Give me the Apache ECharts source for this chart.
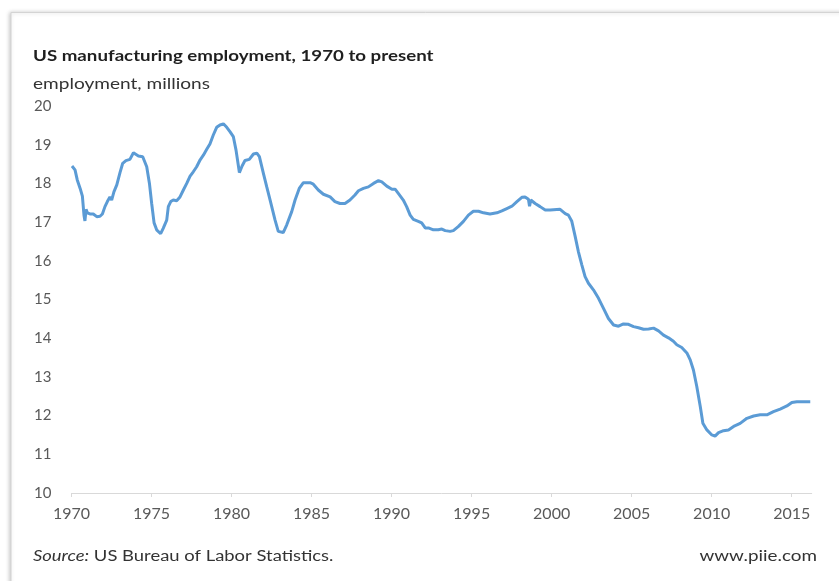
<!DOCTYPE html>
<html>
<head>
<meta charset="utf-8">
<script src="https://cdn.jsdelivr.net/npm/echarts@6/dist/echarts.min.js"></script>
<style>
html,body{margin:0;padding:0;background:#fff;}
#chart{width:839px;height:581px;}
</style>
</head>
<body>
<div id="chart"></div>
<script>
const titleText = 'US manufacturing employment, 1970 to present';
const unitText = 'employment, millions';
const sourceLabel = 'Source:';
const sourceText = ' US Bureau of Labor Statistics.';
const siteText = 'www.piie.com';

const years = [
  1970.03,1970.22,1970.36,1970.54,1970.68,1970.78,1970.84,1970.91,1970.99,1971.15,
  1971.36,1971.58,1971.78,1971.93,1972.09,1972.24,1972.40,1972.51,1972.65,1972.83,
  1973.03,1973.20,1973.40,1973.65,1973.87,1973.97,1974.18,1974.45,1974.70,1974.87,
  1975.01,1975.16,1975.32,1975.57,1975.73,1975.95,1976.05,1976.20,1976.36,1976.57,
  1976.78,1976.99,1977.20,1977.41,1977.61,1977.82,1978.04,1978.24,1978.45,1978.65,
  1978.86,1979.07,1979.28,1979.49,1979.70,1979.90,1980.11,1980.28,1980.49,1980.66,
  1980.84,1981.11,1981.37,1981.58,1981.74,1981.99,1982.20,1982.41,1982.72,1982.92,
  1983.23,1983.45,1983.76,1983.97,1984.23,1984.49,1984.91,1985.11,1985.42,1985.74,
  1986.16,1986.46,1986.78,1987.09,1987.40,1987.71,1987.93,1988.24,1988.55,1988.65,
  1988.87,1989.18,1989.39,1989.70,1990.02,1990.22,1990.42,1990.73,1990.94,1991.16,
  1991.36,1991.67,1991.88,1992.10,1992.30,1992.61,1992.92,1993.14,1993.35,1993.66,
  1993.86,1994.18,1994.49,1994.80,1995.11,1995.43,1995.74,1996.15,1996.58,1996.89,
  1997.20,1997.52,1997.83,1998.14,1998.34,1998.55,1998.62,1998.70,1998.97,1999.28,
  1999.60,1999.91,2000.53,2000.85,2001.05,2001.26,2001.47,2001.67,2001.89,2002.09,
  2002.30,2002.61,2002.93,2003.24,2003.55,2003.87,2004.18,2004.49,2004.80,2005.12,
  2005.43,2005.74,2006.06,2006.37,2006.68,2006.99,2007.30,2007.61,2007.82,2008.13,
  2008.45,2008.66,2008.86,2009.07,2009.29,2009.45,2009.70,2010.01,2010.21,2010.43,
  2010.74,2011.05,2011.37,2011.78,2012.20,2012.62,2013.03,2013.45,2013.86,2014.28,
  2014.70,2015.01,2015.32,2015.74,2016.16
];
const employment = [
  18.45,18.35,18.09,17.87,17.67,17.18,17.03,17.33,17.24,17.21,
  17.21,17.14,17.15,17.21,17.40,17.53,17.65,17.57,17.78,17.96,
  18.28,18.52,18.59,18.62,18.79,18.82,18.71,18.69,18.43,18.00,
  17.48,16.98,16.80,16.70,16.84,17.05,17.40,17.53,17.57,17.55,
  17.65,17.83,18.00,18.19,18.30,18.43,18.61,18.73,18.88,19.02,
  19.25,19.45,19.51,19.54,19.45,19.34,19.21,18.86,18.28,18.45,
  18.59,18.62,18.76,18.78,18.69,18.26,17.91,17.57,17.05,16.76,
  16.73,16.93,17.27,17.57,17.87,18.02,18.02,17.98,17.83,17.72,
  17.65,17.53,17.48,17.48,17.57,17.70,17.81,17.87,17.91,17.90,
  18.00,18.07,18.04,17.93,17.85,17.85,17.74,17.57,17.40,17.18,
  17.07,17.02,16.98,16.85,16.85,16.80,16.80,16.82,16.78,16.76,
  16.78,16.89,17.02,17.18,17.28,17.28,17.24,17.21,17.24,17.29,
  17.35,17.41,17.53,17.64,17.65,17.59,17.41,17.57,17.48,17.40,
  17.31,17.31,17.33,17.22,17.18,17.02,16.63,16.24,15.89,15.59,
  15.42,15.25,15.03,14.77,14.51,14.34,14.31,14.37,14.36,14.30,
  14.27,14.23,14.24,14.26,14.19,14.08,14.01,13.92,13.83,13.76,
  13.62,13.44,13.18,12.75,12.23,11.80,11.63,11.50,11.47,11.56,
  11.61,11.63,11.72,11.80,11.93,11.99,12.02,12.02,12.10,12.17,
  12.25,12.34,12.36,12.36,12.36
];
const xTicks = [1970,1975,1980,1985,1990,1995,2000,2005,2010,2015];
const yTicks = [10,11,12,13,14,15,16,17,18,19,20];

const seriesData = years.map((y, i) => [y, employment[i]]);
const FONT = 'Lato, "Open Sans", sans-serif';

const chart = echarts.init(document.getElementById('chart'), null, {renderer: 'canvas'});
chart.setOption({
  backgroundColor: '#ffffff',
  animation: false,
  graphic: [
    {type: 'rect', shape: {x: 11, y: 12.5, width: 840, height: 590},
     style: {fill: '#ffffff', stroke: '#d4d4d4', lineWidth: 1,
             shadowBlur: 4, shadowColor: 'rgba(0,0,0,0.22)', shadowOffsetX: -1, shadowOffsetY: 0}, z: -10},
    {type: 'text', x: 33, y: 56.5, scaleX: 1.29,
     style: {text: titleText, font: 'bold 14.5px ' + FONT, fill: '#1f1f1f', align: 'left', verticalAlign: 'middle'}},
    {type: 'text', x: 33, y: 84, scaleX: 1.27,
     style: {text: unitText, font: '15px ' + FONT, fill: '#333333', align: 'left', verticalAlign: 'middle'}},
    {type: 'text', x: 33, y: 556, scaleX: 1.27,
     style: {text: '{i|' + sourceLabel + '}' + sourceText, font: '14.5px ' + FONT, fill: '#333333',
       align: 'left', verticalAlign: 'middle',
       rich: {i: {fontStyle: 'italic', fontSize: 14.5, fontFamily: FONT, fill: '#333333'}}}},
    {type: 'text', x: 817, y: 556, scaleX: 1.3,
     style: {text: siteText, font: '14.5px ' + FONT, fill: '#333333', align: 'right', verticalAlign: 'middle'}}
  ],
  grid: {left: 71.5, right: 27.3, top: 106, bottom: 88, containLabel: false},
  xAxis: {
    type: 'value', min: 1970, max: 2016.25, interval: 5,
    axisLine: {show: true, lineStyle: {color: '#d9d9d9', width: 1}},
    axisTick: {show: true, inside: false, length: 4, lineStyle: {color: '#d9d9d9'}},
    splitLine: {show: false},
    axisLabel: {
      color: '#595959', fontSize: 16, fontFamily: FONT, margin: 13,
      showMaxLabel: false,
      formatter: v => xTicks.indexOf(Math.round(v * 100) / 100) >= 0 ? String(v) : ''
    }
  },
  yAxis: {
    type: 'value', min: 10, max: 20, interval: 1,
    axisLine: {show: false}, axisTick: {show: false}, splitLine: {show: false},
    axisLabel: {
      color: '#595959', fontSize: 15, fontFamily: FONT, margin: 20,
      formatter: v => yTicks.indexOf(v) >= 0 ? String(v) : ''
    }
  },
  series: [{
    type: 'line', data: seriesData, showSymbol: false, smooth: false,
    lineStyle: {color: '#5b9bd5', width: 3}, z: 5
  }]
});
</script>
</body>
</html>
